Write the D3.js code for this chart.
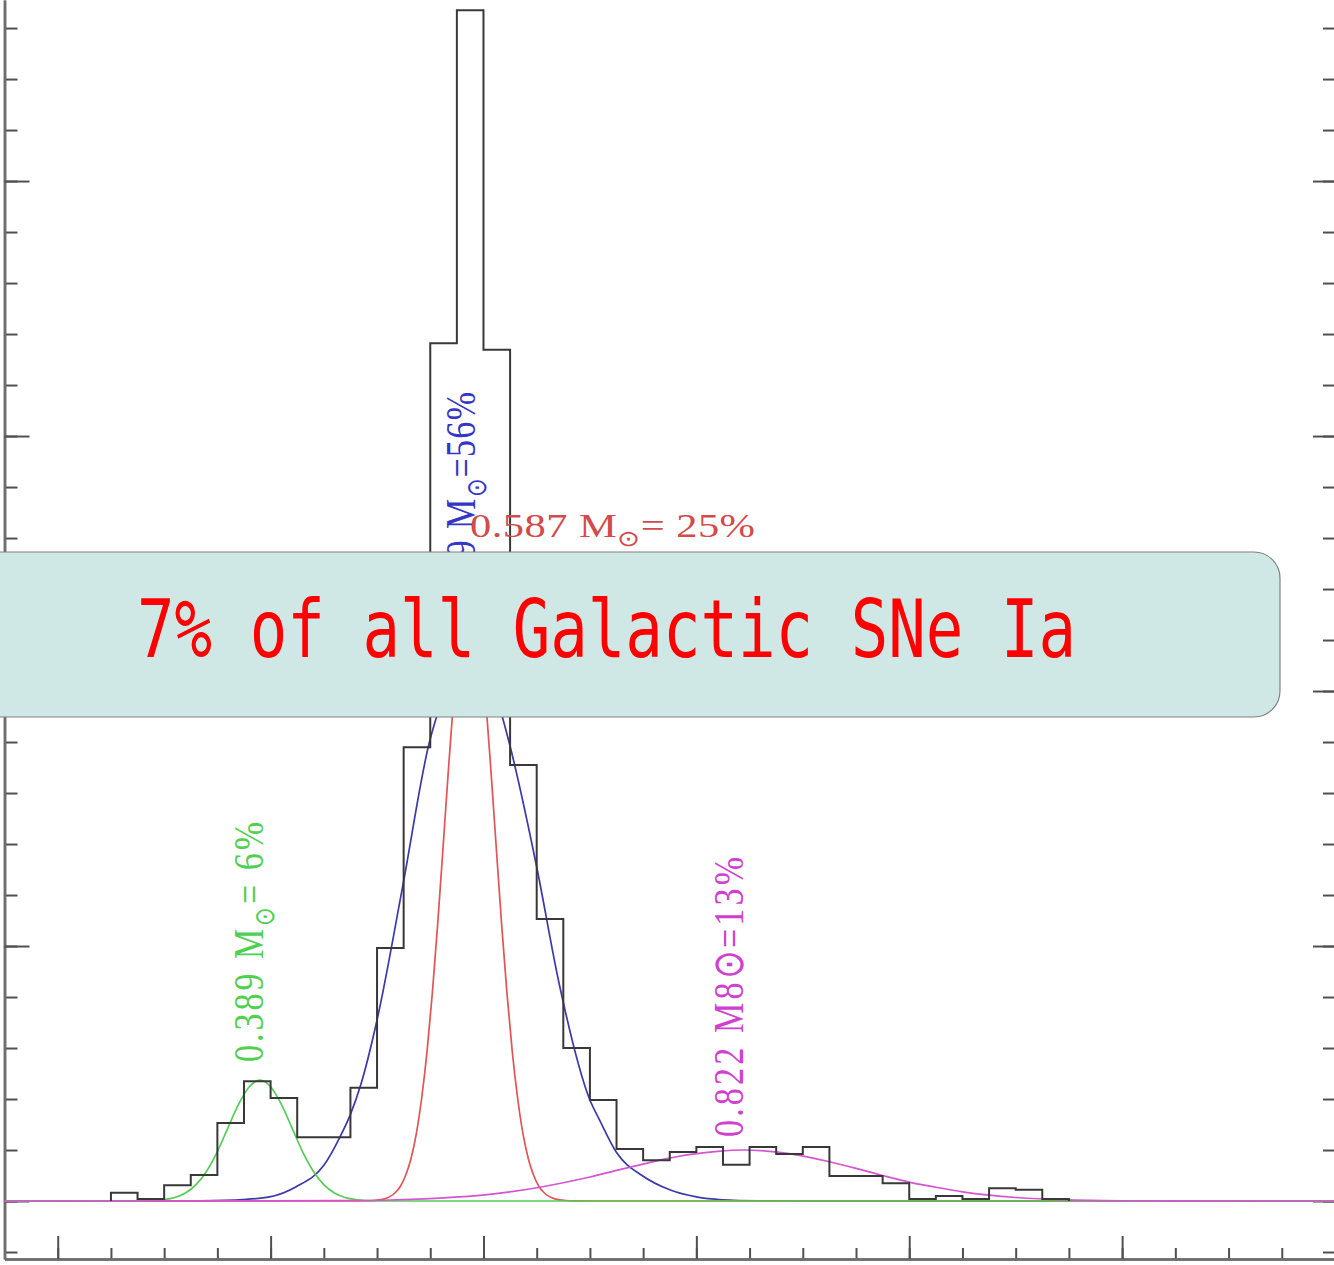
<!DOCTYPE html>
<html><head><meta charset="utf-8">
<script src="https://cdn.jsdelivr.net/npm/d3@7"></script>
<style>html,body{margin:0;padding:0;background:#fff;overflow:hidden}</style>
</head><body>
<svg id="c" width="1334" height="1265"></svg>
<script>
// ---- data (white-dwarf mass distribution) ----
const binEdges = [0.25,0.275,0.3,0.325,0.35,0.375,0.4,0.425,0.45,0.475,0.5,0.525,0.55,0.575,0.6,0.625,0.65,0.675,0.7,0.725,0.75,0.775,0.8,0.825,0.85,0.875,0.9,0.925,0.95,0.975,1.0,1.025,1.05,1.075,1.1,1.125];
const binEnd = 1.15;
const binCounts = [0.16,0.04,0.31,0.51,1.53,2.35,2.02,1.25,1.25,2.22,4.96,8.9,16.82,23.35,16.69,8.55,5.53,3.0,1.98,1.02,0.8,0.96,1.06,0.71,1.06,0.92,1.06,0.49,0.49,0.35,0.04,0.1,0.04,0.25,0.22,0.04];

const xMinorTicks = [0.2,0.25,0.3,0.35,0.4,0.45,0.5,0.55,0.6,0.65,0.7,0.75,0.8,0.85,0.9,0.95,1.0,1.05,1.1,1.15,1.2,1.25,1.3,1.35];
const xMajorTicks = [0.2,0.4,0.6,0.8,1.0,1.2];
const yMinorTicks = [-1,0,1,2,3,4,5,6,7,8,9,10,11,12,13,14,15,16,17,18,19,20,21,22,23];
const yMajorTicks = [0,5,10,15,20];

const blueCurve = [[0.15,0],[0.30,0],[0.333,0.005],[0.374,0.03],[0.399,0.08],[0.424,0.28],[0.450,0.7],[0.465,1.25],[0.475,1.7],[0.485,2.3],[0.500,3.55],[0.524,6.16],[0.549,8.98],[0.559,9.7],[0.573,10.5],[0.587,10.9],[0.601,10.6],[0.618,9.47],[0.624,9.0],[0.650,6.55],[0.671,4.27],[0.700,1.98],[0.709,1.59],[0.725,0.95],[0.749,0.5],[0.775,0.22],[0.800,0.08],[0.824,0.025],[0.859,0.005],[0.90,0],[1.4,0]];
const redCurve = [[0.15,0],[0.45,0],[0.487,0.002],[0.497,0.01],[0.502,0.021],[0.507,0.043],[0.512,0.086],[0.517,0.162],[0.522,0.29],[0.527,0.51],[0.532,0.84],[0.537,1.33],[0.542,2.03],[0.547,2.94],[0.552,4.09],[0.557,5.44],[0.562,6.93],[0.567,8.44],[0.572,9.85],[0.577,10.99],[0.582,11.74],[0.587,12.0],[0.592,11.74],[0.597,10.99],[0.602,9.85],[0.607,8.44],[0.612,6.93],[0.617,5.44],[0.622,4.09],[0.627,2.94],[0.632,2.03],[0.637,1.33],[0.642,0.84],[0.647,0.51],[0.652,0.29],[0.657,0.162],[0.662,0.086],[0.667,0.043],[0.672,0.021],[0.677,0.01],[0.687,0.002],[0.72,0],[1.4,0]];
const greenCurve = [[0.15,0],[0.27,0],[0.28,0.003],[0.29,0.009],[0.30,0.026],[0.31,0.068],[0.32,0.156],[0.33,0.32],[0.34,0.59],[0.35,0.97],[0.36,1.44],[0.37,1.90],[0.38,2.24],[0.39,2.37],[0.40,2.24],[0.41,1.90],[0.42,1.44],[0.43,0.97],[0.44,0.59],[0.45,0.32],[0.46,0.156],[0.47,0.068],[0.48,0.026],[0.49,0.009],[0.50,0.003],[0.51,0],[1.4,0]];
const magentaCurve = [[0.15,0],[0.40,0.002],[0.465,0.008],[0.512,0.02],[0.559,0.056],[0.606,0.13],[0.653,0.27],[0.700,0.47],[0.725,0.60],[0.747,0.71],[0.770,0.82],[0.793,0.91],[0.820,0.975],[0.845,1.0],[0.866,0.98],[0.887,0.93],[0.925,0.77],[0.950,0.64],[0.975,0.50],[1.000,0.37],[1.025,0.27],[1.050,0.18],[1.075,0.115],[1.100,0.069],[1.150,0.021],[1.200,0.005],[1.250,0.001],[1.40,0]];

const boxText = "7% of all Galactic SNe Ia";

// ---- drawing ----
const svg = d3.select('#c');
svg.append('rect').attr('width',1334).attr('height',1265).attr('fill','#fff');

const x = d3.scaleLinear().domain([0.15,1.4]).range([4.5,1335]);
const y = d3.scaleLinear().domain([-1.137,23.55]).range([1259,0]);

function axisG(axis, tr){
  const g = svg.append('g').attr('transform',tr).call(axis);
  g.selectAll('path.domain').attr('stroke','#6e6e6e').attr('stroke-width',2.5);
  g.selectAll('.tick line').attr('stroke','#505050').attr('stroke-width',2);
  g.selectAll('text').remove();
  return g;
}
const yb = y.range()[0];
axisG(d3.axisBottom(x).tickValues(xMinorTicks).tickSize(-11).tickSizeOuter(0).tickFormat(''), `translate(0,${yb})`);
axisG(d3.axisBottom(x).tickValues(xMajorTicks).tickSize(-23).tickSizeOuter(0).tickFormat(''), `translate(0,${yb})`);
axisG(d3.axisLeft(y).tickValues(yMinorTicks).tickSize(-13).tickSizeOuter(0).tickFormat(''), `translate(${x(0.15)},0)`);
axisG(d3.axisLeft(y).tickValues(yMajorTicks).tickSize(-25).tickSizeOuter(0).tickFormat(''), `translate(${x(0.15)},0)`);
axisG(d3.axisRight(y).tickValues(yMinorTicks).tickSize(-12).tickSizeOuter(0).tickFormat(''), `translate(${x(1.4)},0)`);
axisG(d3.axisRight(y).tickValues(yMajorTicks).tickSize(-22).tickSizeOuter(0).tickFormat(''), `translate(${x(1.4)},0)`);

const line = d3.line().x(d=>x(d[0])).y(d=>y(d[1])).curve(d3.curveMonotoneX);
const curves = [[blueCurve,'#3a3aa8'],[redCurve,'#e05555'],[greenCurve,'#55cc55'],[magentaCurve,'#d455d4']];
curves.forEach(([data,col])=>{
  svg.append('path').attr('d',line(data)).attr('fill','none').attr('stroke',col).attr('stroke-width',1.7);
});

const histPts = [[binEdges[0],0], ...binEdges.map((e,i)=>[e,binCounts[i]]), [binEnd,0]];
svg.append('path')
  .attr('d', d3.line().x(d=>x(d[0])).y(d=>y(d[1])).curve(d3.curveStepAfter)(histPts))
  .attr('fill','none').attr('stroke','#383838').attr('stroke-width',2);

// ---- labels ----
function label(tr, parts, col, len){
  const t = svg.append('text').attr('transform',tr)
    .attr('font-family','"Liberation Serif","Times New Roman",serif')
    .attr('font-size',34).attr('fill',col)
    .attr('textLength',len).attr('lengthAdjust','spacing');
  parts.forEach(p=>{
    const s = t.append('tspan').text(p.t);
    if(p.sub){ s.attr('font-size',22).attr('dy',9); }
    if(p.up){ s.attr('dy',-9); }
  });
  return t;
}
label('translate(475,622) scale(1.25,1) rotate(-90)', [{t:'0.559 M'},{t:'\u2299',sub:true},{t:'=56%',up:true}], '#3535c8', 230);
label('translate(470,537) scale(1.25,1)', [{t:'0.587 M'},{t:'\u2299',sub:true},{t:'= 25%',up:true}], '#d24a4a', 228);
label('translate(263,1062) scale(1.25,1) rotate(-90)', [{t:'0.389 M'},{t:'\u2299',sub:true},{t:'= 6%',up:true}], '#4fd04f', 240);
label('translate(743,1137) scale(1.25,1) rotate(-90)', [{t:'0.822 M8\u2299=13%'}], '#d040d0', 280);

// ---- overlay box ----
svg.append('rect').attr('x',-40).attr('y',552).attr('width',1320).attr('height',165).attr('rx',26)
  .attr('fill','#cfe8e5').attr('stroke','#808080').attr('stroke-width',1.2);
svg.append('text').attr('transform','translate(137,657) scale(0.78,1)')
  .attr('font-family','"DejaVu Sans Mono","Liberation Mono",monospace')
  .attr('font-size',80).attr('fill','#ff0000')
  .text(boxText);
</script>
</body></html>
